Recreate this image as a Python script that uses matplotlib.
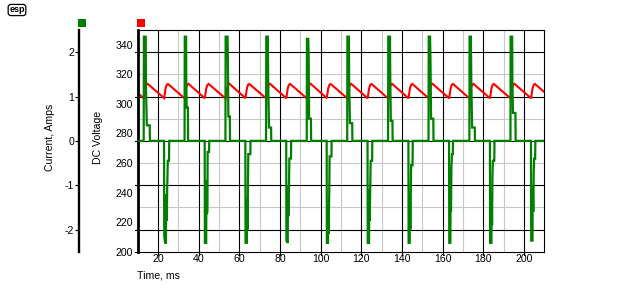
import matplotlib
matplotlib.use("Agg")
import matplotlib.pyplot as plt
from matplotlib.patches import Rectangle

plt.rcParams['font.family'] = ['Liberation Sans', 'DejaVu Sans']
plt.rcParams['font.size'] = 7.6
plt.rcParams['axes.unicode_minus'] = False

# ---------------- data ----------------
# line current (A) vs time (ms)
time_ms = [
    10.0,
    12.95, 13.05, 13.95, 14.05, 14.5, 15.9, 16.0,
    22.95, 23.05, 23.5, 23.9, 24.0, 24.3, 24.5, 24.8, 25.4, 25.5,
    33.05, 33.15, 33.8, 33.9, 34.1, 34.7, 34.8,
    42.95, 43.05, 43.7, 43.8, 44.0, 44.3, 44.4, 45.1, 45.2,
    53.15, 53.25, 54.2, 54.35, 54.6, 55.3, 55.4,
    62.95, 63.05, 63.7, 63.8, 64.0, 64.2, 64.4, 65.4, 65.5,
    73.15, 73.25, 74.0, 74.2, 74.6, 75.6, 75.7,
    83.05, 83.15, 83.8, 83.9, 84.1, 84.4, 84.6, 85.4, 85.5,
    93.15, 93.25, 93.9, 94.1, 94.3, 95.2, 95.3,
    102.95, 103.05, 103.6, 103.7, 103.9, 104.2, 104.4, 105.3, 105.4,
    113.05, 113.15, 113.9, 114.0, 114.4, 115.5, 115.6,
    123.05, 123.15, 123.8, 123.9, 124.1, 124.4, 124.6, 125.3, 125.4,
    133.15, 133.25, 134.1, 134.2, 134.5, 135.3, 135.4,
    143.15, 143.25, 143.8, 143.9, 144.1, 144.3, 144.5, 145.2, 145.3,
    153.05, 153.15, 153.8, 154.0, 154.3, 155.4, 155.5,
    163.15, 163.25, 163.8, 163.9, 164.1, 164.3, 164.6, 165.0, 165.1,
    173.15, 173.25, 173.9, 174.1, 174.5, 175.8, 175.9,
    183.25, 183.35, 184.0, 184.1, 184.3, 184.5, 184.7, 185.4, 185.5,
    193.35, 193.45, 194.2, 194.3, 194.6, 195.8, 195.9,
    203.45, 203.55, 204.2, 204.3, 204.6, 204.8, 205.0, 205.5, 205.6,
    210.0,
]
current_a = [
    0.0,
    0.0, 2.35, 2.35, 1.25, 0.35, 0.35, 0.0,
    0.0, -2.15, -2.3, -2.3, -1.2, -1.8, -1.1, -0.45, -0.45, 0.0,
    0.0, 2.35, 2.35, 1.3, 0.75, 0.75, 0.0,
    0.0, -2.3, -2.3, -0.9, -1.65, -1.6, -0.25, -0.25, 0.0,
    0.0, 2.35, 2.35, 1.85, 0.55, 0.55, 0.0,
    0.0, -2.3, -2.3, -1.3, -2.0, -1.25, -0.3, -0.3, 0.0,
    0.0, 2.35, 2.35, 1.3, 0.3, 0.3, 0.0,
    0.0, -2.25, -2.3, -1.0, -1.7, -1.1, -0.4, -0.4, 0.0,
    0.0, 2.3, 2.3, 1.9, 0.5, 0.5, 0.0,
    0.0, -2.3, -2.3, -1.5, -2.1, -1.2, -0.35, -0.35, 0.0,
    0.0, 2.35, 2.35, 1.4, 0.4, 0.4, 0.0,
    0.0, -2.3, -2.3, -1.1, -1.8, -1.0, -0.45, -0.45, 0.0,
    0.0, 2.35, 2.35, 1.6, 0.45, 0.45, 0.0,
    0.0, -2.3, -2.3, -1.25, -2.0, -1.3, -0.55, -0.55, 0.0,
    0.0, 2.35, 2.35, 1.9, 0.5, 0.5, 0.0,
    0.0, -2.3, -2.3, -1.1, -1.6, -0.6, -0.3, -0.3, 0.0,
    0.0, 2.35, 2.35, 1.3, 0.3, 0.3, 0.0,
    0.0, -2.3, -2.3, -1.2, -1.9, -0.8, -0.45, -0.45, 0.0,
    0.0, 2.35, 2.35, 1.3, 0.63, 0.63, 0.0,
    0.0, -2.25, -2.25, -1.0, -1.6, -0.7, -0.4, -0.4, 0.0,
    0.0,
]

# DC (capacitor) voltage vs time (ms)
vtime_ms = [
    10.0,
    13.0, 13.7, 14.3, 14.9,
    23.0, 23.7, 24.3, 24.9,
    33.1, 33.8, 34.4, 35.0,
    43.0, 43.7, 44.3, 44.9,
    53.2, 53.9, 54.5, 55.1,
    63.0, 63.7, 64.3, 64.9,
    73.2, 73.9, 74.5, 75.1,
    83.1, 83.8, 84.4, 85.0,
    93.2, 93.9, 94.5, 95.1,
    103.0, 103.7, 104.3, 104.9,
    113.1, 113.8, 114.4, 115.0,
    123.1, 123.8, 124.4, 125.0,
    133.2, 133.9, 134.5, 135.1,
    143.2, 143.9, 144.5, 145.1,
    153.1, 153.8, 154.4, 155.0,
    163.2, 163.9, 164.5, 165.1,
    173.2, 173.9, 174.5, 175.1,
    183.3, 184.0, 184.6, 185.2,
    193.4, 194.1, 194.7, 195.3,
    203.5, 204.2, 204.8, 205.4,
    210.0,
]
dc_volts = [
    307.3,
    303.8, 310.5, 313.0, 313.6,
    303.9, 310.4, 313.0, 313.5,
    303.7, 310.5, 313.1, 313.6,
    303.8, 310.3, 312.9, 313.5,
    303.7, 310.5, 313.0, 313.6,
    303.9, 310.4, 313.0, 313.5,
    303.7, 310.5, 313.1, 313.6,
    303.8, 310.4, 313.0, 313.5,
    303.7, 310.5, 313.0, 313.6,
    303.9, 310.4, 312.9, 313.5,
    303.8, 310.5, 313.0, 313.6,
    303.8, 310.4, 313.0, 313.5,
    303.7, 310.5, 313.1, 313.6,
    303.8, 310.4, 313.0, 313.5,
    303.8, 310.5, 313.0, 313.6,
    303.8, 310.4, 313.0, 313.5,
    303.7, 310.5, 313.0, 313.6,
    303.8, 310.4, 313.0, 313.5,
    303.7, 310.5, 313.1, 313.6,
    303.8, 310.4, 313.0, 313.5,
    308.0,
]

time_ticks = [20, 40, 60, 80, 100, 120, 140, 160, 180, 200]
time_minor = [30, 50, 70, 90, 110, 130, 150, 170, 190]
current_ticks = [-2, -1, 0, 1, 2]
current_tick_labels = ['-2', '-1', '0', '1', '2']
current_minor = [-1.5, -0.5, 0.5, 1.5]
volt_ticks = [200, 220, 240, 260, 280, 300, 320, 340]

GREEN = '#008000'
RED = '#ff0000'
GRID = '#c8c8c8'

# ---------------- layout (pixels) ----------------
W, H = 640, 300
L, R, T, B = 137.7, 544.3, 30.0, 251.7
PW, PH = R - L, B - T

fig = plt.figure(figsize=(W / 100, H / 100), dpi=100)
ax = fig.add_axes([L / W, 1 - B / H, PW / W, PH / H])
ax.set_xlim(10, 210)
ax.set_ylim(-2.5, 2.5)

ax.set_xticks(time_ticks)
ax.set_xticks(time_minor, minor=True)
ax.set_yticks(current_ticks)
ax.set_yticklabels(current_tick_labels)
ax.set_yticks(current_minor, minor=True)

ax.set_axisbelow(True)
ax.grid(which='minor', color=GRID, lw=0.8)
ax.grid(which='major', visible=False)

# black major grid lines (extend slightly outside to form tick marks)
for c in current_ticks:
    ax.axhline(c, xmin=-3 / PW, xmax=1, color='black', lw=0.8, zorder=1, clip_on=False)
ax.axhline(-2.5, xmin=-3 / PW, xmax=0, color='black', lw=0.8, zorder=1, clip_on=False)
for t in time_ticks:
    ax.axvline(t, ymin=-3 / PH, ymax=1, color='black', lw=0.8, zorder=1, clip_on=False)

ax.tick_params(axis='x', which='both', length=0, pad=1.8, labelsize=7.6)
ax.tick_params(axis='y', which='major', length=2.9, width=0.8, pad=0.7, labelsize=7.6)
ax.tick_params(axis='y', which='minor', length=0)

ax.spines['left'].set_position(('outward', 58.7 * 0.72))
ax.spines['left'].set_linewidth(1.7)
for s in ('top', 'right', 'bottom'):
    ax.spines[s].set_linewidth(0.8)
    ax.spines[s].set_color('black')

# voltage axis (red trace)
axv = ax.twinx()
axv.set_ylim(200, 350)
axv.plot(vtime_ms, dc_volts, color=RED, lw=1.5, solid_joinstyle='miter')
axv.yaxis.tick_left()
axv.set_yticks(volt_ticks)
axv.tick_params(axis='y', length=0, pad=3.2, labelsize=7.6)
for s in ('top', 'right', 'bottom'):
    axv.spines[s].set_visible(False)
axv.spines['left'].set_linewidth(2.0)

# current trace (green) on top
axg = ax.twinx()
axg.set_ylim(-2.5, 2.5)
axg.plot(time_ms, current_a, color=GREEN, lw=1.6, solid_joinstyle='miter')
axg.axis('off')

# labels
fig.text(50 / W, 1 - 137 / H, 'Current, Amps', rotation=90, ha='center', va='center', fontsize=7.6)
fig.text(98 / W, 1 - 137 / H, 'DC Voltage', rotation=90, ha='center', va='center', fontsize=7.6)
fig.text(137 / W, 1 - 275 / H, 'Time, ms', ha='left', va='center', fontsize=7.6)

# colour keys
fig.add_artist(Rectangle((78 / W, 1 - 27 / H), 8 / W, 8 / H, transform=fig.transFigure,
                         facecolor=GREEN, edgecolor='none'))
fig.add_artist(Rectangle((137 / W, 1 - 27 / H), 8 / W, 8 / H, transform=fig.transFigure,
                         facecolor=RED, edgecolor='none'))

# logo
fig.text(17 / W, 1 - 10 / H, 'esp', fontsize=6.5, fontweight='bold', ha='center', va='center',
         bbox=dict(boxstyle='round,pad=0.12,rounding_size=0.3', fc='white', ec='black', lw=0.9))

fig.savefig('out.png', dpi=100)
